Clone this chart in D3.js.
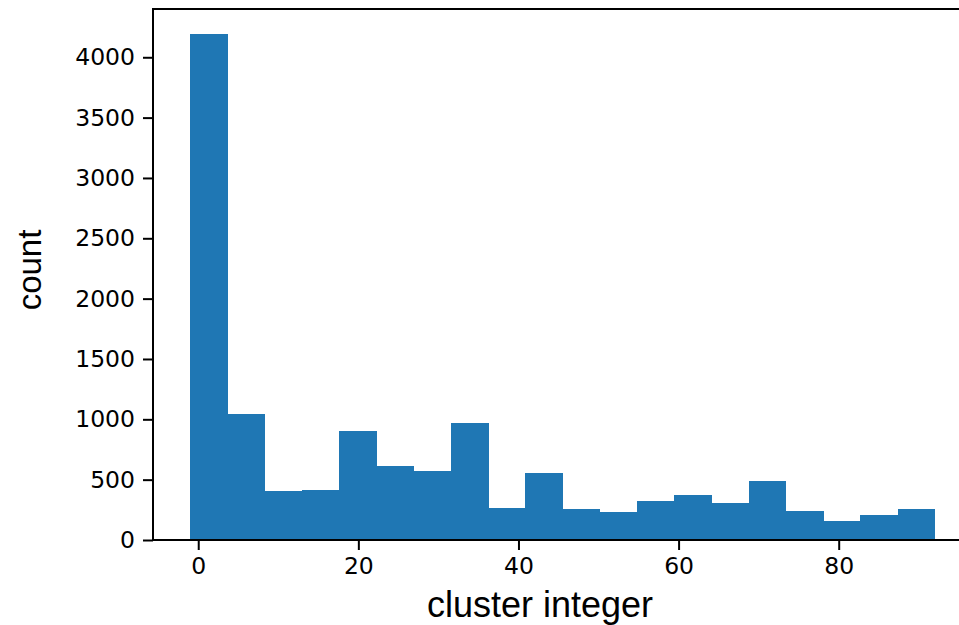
<!DOCTYPE html>
<html>
<head>
<meta charset="utf-8">
<script src="https://cdn.jsdelivr.net/npm/d3@7"></script>
<style>
  body { margin: 0; background: #fff; }
  svg { display: block; }
  .tick text { font-family: "DejaVu Sans", sans-serif; font-size: 23.5px; fill: #000; }
  .label { font-family: "Liberation Sans", Arial, sans-serif; font-size: 34px; fill: #000; }
</style>
</head>
<body>
<div id="chart"></div>
<script>
var width = 959,
  height = 625;

// histogram bin edges and counts (20 bins)
var binEdges = [-1, 3.65, 8.3, 12.95, 17.6, 22.25, 26.9, 31.55, 36.2, 40.85, 45.5,
  50.15, 54.8, 59.45, 64.1, 68.75, 73.4, 78.05, 82.7, 87.35, 92];
var counts = [4192, 1044, 404, 412, 901, 613, 569, 970, 268, 553,
  257, 230, 321, 370, 304, 489, 238, 155, 207, 257];

var xTicks = [0, 20, 40, 60, 80];
var yTicks = [0, 500, 1000, 1500, 2000, 2500, 3000, 3500, 4000];

var bins = counts.map(function (c, i) { return { x0: binEdges[i], x1: binEdges[i + 1], count: c }; });

var plotLeft = 153, plotRight = 972, plotTop = 9, plotBottom = 540;

var x = d3.scaleLinear().domain([-5.65, 96.65]).range([plotLeft, plotRight]);
var y = d3.scaleLinear().domain([0, 4400]).range([plotBottom, plotTop]);

var svg = d3.select("#chart").append("svg")
  .attr("width", width)
  .attr("height", height);

svg.selectAll(".bar").data(bins)
  .enter().append("rect")
  .attr("class", "bar")
  .attr("x", function (d) { return x(d.x0); })
  .attr("width", function (d) { return x(d.x1) - x(d.x0) + 0.6; })
  .attr("y", function (d) { return y(d.count); })
  .attr("height", function (d) { return y(0) - y(d.count); })
  .attr("shape-rendering", "crispEdges")
  .style("fill", "#1f77b4");

var xAxis = svg.append("g")
  .attr("transform", "translate(0," + plotBottom + ")")
  .call(d3.axisBottom(x).tickValues(xTicks).tickSize(10).tickPadding(7).tickFormat(d3.format("d")));

var yAxis = svg.append("g")
  .attr("transform", "translate(" + plotLeft + ",0)")
  .call(d3.axisLeft(y).tickValues(yTicks).tickSize(10).tickPadding(8).tickFormat(d3.format("d")));

[xAxis, yAxis].forEach(function (g) {
  g.select(".domain").remove();
  g.selectAll(".tick line").attr("stroke", "#000").attr("stroke-width", 2);
});

// frame (right side falls outside the picture)
svg.append("rect")
  .attr("x", plotLeft)
  .attr("y", plotTop)
  .attr("width", plotRight - plotLeft)
  .attr("height", plotBottom - plotTop)
  .style("fill", "none")
  .style("stroke", "#000")
  .style("stroke-width", 2);

svg.append("text")
  .attr("class", "label")
  .attr("x", 540)
  .attr("y", 617)
  .attr("text-anchor", "middle")
  .style("font-size", "36px")
  .text("cluster integer");

svg.append("text")
  .attr("class", "label")
  .attr("transform", "translate(41,270)rotate(-90)")
  .attr("text-anchor", "middle")
  .style("font-size", "33px")
  .text("count");
</script>
</body>
</html>
